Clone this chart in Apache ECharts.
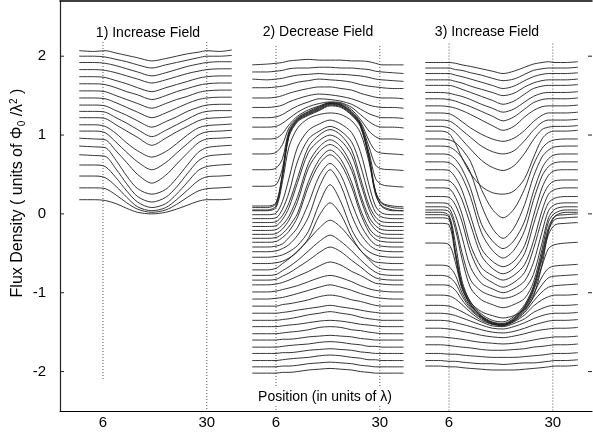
<!DOCTYPE html>
<html><head><meta charset="utf-8">
<script src="https://cdn.jsdelivr.net/npm/echarts@6/dist/echarts.min.js"></script>
<style>html,body{margin:0;padding:0;background:#fff}#c{width:593px;height:433px}</style>
</head><body><div id="c"></div>
<script>
// ---------- data ----------
const panelOffsets = [0, 40, 80];
const panelTitles = ['1) Increase Field', '2) Decrease Field', '3) Increase Field'];
const xTickValues = [6, 30, 46, 70, 86, 110];
const yTickValues = [-2, -1, 0, 1, 2];
const guideXs = [6, 30, 46, 70, 86, 110];
const guideTop = [2.18, 2.18, 2.13, 2.13, 2.16, 2.16];
const guideBottom = [-2.12, -2.5, -2.5, -2.5, -2.5, -2.5];

// panel 1: increase field from zero
const panel1X = [0.5, 4, 6.5, 9, 11.5, 14, 17.3, 20.5, 23, 25.5, 28, 30, 33, 35.8];
const panel1Curves = [
  [2.07,2.06,2.07,2.04,2.01,1.98,1.94,1.97,2.00,2.03,2.05,2.07,2.06,2.08],
  [2.00,2.00,1.99,1.96,1.93,1.89,1.85,1.89,1.92,1.95,1.98,2.00,2.00,2.01],
  [1.92,1.92,1.91,1.88,1.84,1.80,1.75,1.79,1.83,1.87,1.90,1.92,1.93,1.93],
  [1.83,1.83,1.82,1.79,1.75,1.71,1.66,1.70,1.74,1.78,1.81,1.83,1.84,1.84],
  [1.74,1.74,1.73,1.69,1.65,1.60,1.55,1.60,1.64,1.68,1.72,1.74,1.75,1.75],
  [1.65,1.65,1.64,1.60,1.55,1.51,1.45,1.50,1.55,1.59,1.63,1.65,1.66,1.66],
  [1.56,1.56,1.55,1.50,1.45,1.40,1.34,1.40,1.45,1.49,1.54,1.56,1.57,1.57],
  [1.47,1.47,1.46,1.41,1.35,1.29,1.22,1.28,1.34,1.40,1.45,1.47,1.48,1.48],
  [1.38,1.38,1.37,1.31,1.25,1.18,1.10,1.17,1.23,1.30,1.35,1.38,1.39,1.39],
  [1.30,1.30,1.29,1.22,1.15,1.07,0.98,1.06,1.13,1.20,1.27,1.30,1.31,1.31],
  [1.22,1.22,1.21,1.13,1.05,0.97,0.87,0.96,1.04,1.11,1.18,1.21,1.22,1.23],
  [1.13,1.13,1.11,1.02,0.90,0.80,0.72,0.79,0.89,1.00,1.09,1.12,1.13,1.14],
  [1.05,1.05,1.03,0.91,0.78,0.66,0.56,0.65,0.77,0.89,1.00,1.04,1.05,1.06],
  [0.96,0.95,0.94,0.80,0.65,0.50,0.39,0.49,0.63,0.77,0.90,0.95,0.96,0.97],
  [0.86,0.85,0.84,0.68,0.48,0.32,0.25,0.31,0.45,0.62,0.78,0.84,0.86,0.87],
  [0.75,0.74,0.73,0.57,0.38,0.22,0.15,0.21,0.34,0.51,0.67,0.73,0.75,0.76],
  [0.62,0.62,0.60,0.46,0.29,0.15,0.08,0.13,0.25,0.40,0.55,0.60,0.62,0.63],
  [0.48,0.48,0.46,0.35,0.21,0.09,0.04,0.08,0.18,0.30,0.42,0.47,0.48,0.49],
  [0.33,0.33,0.32,0.24,0.14,0.06,0.02,0.05,0.12,0.21,0.29,0.32,0.33,0.34],
  [0.18,0.18,0.17,0.13,0.07,0.02,0.00,0.02,0.06,0.11,0.16,0.18,0.18,0.19]
];

// panel 2: decrease field
const panel2X = [0.5, 4, 6, 7.5, 9, 11, 13.5, 16, 18.5, 21, 23.5, 25.5, 27.5, 29, 30.5, 33, 35.5];
const panel2Upper = [
  [1.89,1.90,1.91,1.92,1.94,1.95,1.96,1.95,1.95,1.95,1.94,1.94,1.93,1.91,1.89,1.89,1.89],
  [1.80,1.80,1.81,1.82,1.84,1.85,1.85,1.86,1.86,1.85,1.85,1.84,1.83,1.81,1.80,1.79,1.78],
  [1.71,1.70,1.71,1.72,1.74,1.76,1.77,1.78,1.77,1.77,1.76,1.75,1.73,1.71,1.70,1.69,1.68],
  [1.60,1.60,1.61,1.62,1.64,1.67,1.69,1.71,1.70,1.69,1.67,1.64,1.62,1.61,1.60,1.59,1.59],
  [1.47,1.47,1.48,1.50,1.53,1.56,1.59,1.61,1.61,1.59,1.57,1.53,1.50,1.48,1.47,1.47,1.46],
  [1.35,1.35,1.36,1.38,1.42,1.46,1.50,1.52,1.51,1.49,1.46,1.42,1.38,1.36,1.35,1.35,1.34],
  [1.22,1.22,1.23,1.26,1.31,1.37,1.42,1.46,1.45,1.43,1.39,1.33,1.27,1.24,1.22,1.22,1.21],
  [1.10,1.10,1.11,1.15,1.21,1.29,1.36,1.40,1.42,1.41,1.35,1.26,1.17,1.12,1.10,1.10,1.09],
  [0.95,0.95,0.96,1.02,1.13,1.24,1.32,1.37,1.41,1.40,1.32,1.20,1.05,0.98,0.95,0.95,0.94],
  [0.76,0.76,0.78,0.88,1.09,1.22,1.30,1.36,1.41,1.39,1.30,1.17,0.93,0.80,0.77,0.76,0.75],
  [0.56,0.56,0.58,0.70,1.05,1.21,1.29,1.35,1.40,1.38,1.29,1.15,0.85,0.62,0.57,0.56,0.55],
  [0.35,0.35,0.37,0.58,1.03,1.20,1.28,1.34,1.40,1.38,1.28,1.14,0.78,0.45,0.37,0.35,0.34]
];
const panel2Plateau = [
  [0.10,0.10,0.14,0.52,1.02,1.19,1.27,1.33,1.39,1.37,1.27,1.13,0.74,0.29,0.14,0.10,0.09],
  [0.08,0.08,0.13,0.50,1.00,1.18,1.26,1.32,1.38,1.36,1.26,1.12,0.72,0.28,0.13,0.08,0.07],
  [0.05,0.05,0.10,0.47,0.98,1.17,1.25,1.31,1.37,1.35,1.25,1.11,0.70,0.25,0.10,0.05,0.04]
];
const panel2Arcs = [
  [0.04,0.04,0.08,0.41,0.85,1.09,1.21,1.26,1.28,1.26,1.18,1.03,0.66,0.26,0.09,0.04,0.04],
  [-0.01,-0.01,0.01,0.16,0.45,0.85,1.06,1.14,1.19,1.14,1.03,0.79,0.37,0.10,0.01,-0.01,-0.01],
  [-0.06,-0.06,-0.05,0.06,0.27,0.67,0.95,1.05,1.11,1.05,0.91,0.62,0.23,0.02,-0.04,-0.06,-0.06],
  [-0.11,-0.11,-0.10,-0.02,0.14,0.46,0.85,1.00,1.07,1.00,0.81,0.46,0.11,-0.04,-0.10,-0.11,-0.11],
  [-0.16,-0.16,-0.15,-0.07,0.08,0.40,0.78,0.93,1.00,0.93,0.74,0.40,0.06,-0.09,-0.15,-0.16,-0.16],
  [-0.21,-0.21,-0.20,-0.14,-0.03,0.22,0.64,0.85,0.94,0.85,0.61,0.25,-0.04,-0.15,-0.20,-0.21,-0.21],
  [-0.26,-0.26,-0.25,-0.19,-0.08,0.16,0.58,0.79,0.88,0.79,0.55,0.20,-0.09,-0.20,-0.25,-0.26,-0.26],
  [-0.31,-0.31,-0.30,-0.25,-0.16,0.01,0.41,0.69,0.81,0.69,0.40,0.06,-0.18,-0.27,-0.30,-0.31,-0.31],
  [-0.36,-0.36,-0.35,-0.30,-0.22,-0.04,0.35,0.63,0.75,0.63,0.34,0.01,-0.23,-0.32,-0.35,-0.36,-0.36],
  [-0.42,-0.42,-0.41,-0.38,-0.30,-0.17,0.13,0.48,0.64,0.49,0.14,-0.13,-0.31,-0.39,-0.41,-0.42,-0.42],
  [-0.48,-0.48,-0.47,-0.44,-0.39,-0.27,-0.04,0.34,0.56,0.36,-0.02,-0.25,-0.39,-0.45,-0.47,-0.48,-0.48],
  [-0.55,-0.55,-0.54,-0.52,-0.48,-0.40,-0.22,0.13,0.37,0.15,-0.20,-0.38,-0.48,-0.52,-0.54,-0.55,-0.55],
  [-0.63,-0.63,-0.62,-0.60,-0.56,-0.48,-0.31,-0.02,0.14,-0.01,-0.29,-0.46,-0.56,-0.61,-0.62,-0.63,-0.63],
  [-0.71,-0.71,-0.69,-0.63,-0.57,-0.47,-0.33,-0.18,-0.08,-0.17,-0.33,-0.46,-0.58,-0.66,-0.70,-0.71,-0.71],
  [-0.78,-0.78,-0.77,-0.72,-0.67,-0.59,-0.47,-0.35,-0.27,-0.35,-0.47,-0.58,-0.68,-0.74,-0.77,-0.78,-0.78],
  [-0.84,-0.84,-0.83,-0.79,-0.75,-0.68,-0.59,-0.49,-0.42,-0.48,-0.59,-0.67,-0.76,-0.81,-0.83,-0.84,-0.84],
  [-0.90,-0.90,-0.89,-0.87,-0.84,-0.79,-0.73,-0.66,-0.61,-0.65,-0.73,-0.78,-0.84,-0.88,-0.89,-0.90,-0.90],
  [-0.99,-0.99,-0.98,-0.96,-0.94,-0.91,-0.86,-0.81,-0.78,-0.81,-0.86,-0.91,-0.95,-0.97,-0.98,-0.99,-0.99],
  [-1.08,-1.08,-1.07,-1.06,-1.04,-1.01,-0.97,-0.93,-0.90,-0.93,-0.97,-1.01,-1.04,-1.06,-1.07,-1.08,-1.08],
  [-1.17,-1.17,-1.17,-1.15,-1.14,-1.12,-1.09,-1.05,-1.03,-1.05,-1.09,-1.11,-1.14,-1.16,-1.17,-1.17,-1.17],
  [-1.26,-1.26,-1.26,-1.25,-1.24,-1.22,-1.20,-1.18,-1.16,-1.18,-1.20,-1.22,-1.24,-1.25,-1.26,-1.26,-1.26],
  [-1.35,-1.35,-1.35,-1.34,-1.33,-1.31,-1.28,-1.26,-1.24,-1.26,-1.28,-1.31,-1.33,-1.34,-1.35,-1.35,-1.35],
  [-1.43,-1.43,-1.43,-1.42,-1.41,-1.40,-1.38,-1.36,-1.35,-1.36,-1.38,-1.40,-1.41,-1.42,-1.43,-1.43,-1.43],
  [-1.52,-1.52,-1.52,-1.51,-1.50,-1.49,-1.47,-1.44,-1.43,-1.44,-1.47,-1.48,-1.50,-1.51,-1.52,-1.52,-1.52],
  [-1.60,-1.60,-1.60,-1.59,-1.59,-1.58,-1.56,-1.55,-1.54,-1.55,-1.56,-1.58,-1.59,-1.60,-1.60,-1.60,-1.60],
  [-1.69,-1.69,-1.69,-1.68,-1.67,-1.66,-1.65,-1.63,-1.62,-1.63,-1.65,-1.66,-1.68,-1.68,-1.69,-1.69,-1.69],
  [-1.77,-1.77,-1.77,-1.76,-1.76,-1.75,-1.73,-1.72,-1.71,-1.72,-1.73,-1.75,-1.76,-1.77,-1.77,-1.77,-1.77],
  [-1.86,-1.86,-1.86,-1.85,-1.84,-1.83,-1.82,-1.80,-1.79,-1.80,-1.82,-1.83,-1.85,-1.85,-1.86,-1.86,-1.86],
  [-1.94,-1.94,-1.94,-1.93,-1.93,-1.92,-1.90,-1.89,-1.88,-1.89,-1.90,-1.92,-1.93,-1.94,-1.94,-1.94,-1.94],
  [-2.02,-2.02,-2.02,-2.01,-2.01,-2.00,-1.98,-1.97,-1.96,-1.97,-1.98,-2.00,-2.01,-2.02,-2.02,-2.02,-2.02]
];

// panel 3: increase field again
const panel3X = [0.5, 4, 6, 7.5, 9, 11, 13.5, 16, 18.5, 21, 23.5, 25.5, 27.5, 29, 30.5, 33, 35.8];
const panel3Dips = [
  [1.92,1.92,1.92,1.91,1.89,1.87,1.84,1.81,1.78,1.81,1.86,1.90,1.92,1.93,1.92,1.92,1.93],
  [1.85,1.85,1.85,1.83,1.82,1.79,1.76,1.72,1.69,1.71,1.77,1.82,1.84,1.85,1.85,1.85,1.86],
  [1.78,1.78,1.78,1.76,1.74,1.71,1.67,1.63,1.59,1.62,1.69,1.74,1.77,1.78,1.78,1.78,1.79],
  [1.70,1.70,1.70,1.68,1.66,1.62,1.58,1.54,1.50,1.53,1.61,1.66,1.69,1.70,1.70,1.70,1.71],
  [1.63,1.63,1.63,1.61,1.58,1.54,1.49,1.44,1.39,1.43,1.52,1.59,1.62,1.63,1.63,1.63,1.64],
  [1.54,1.54,1.53,1.51,1.49,1.45,1.39,1.34,1.29,1.33,1.42,1.49,1.53,1.54,1.54,1.54,1.55],
  [1.46,1.46,1.45,1.43,1.40,1.36,1.30,1.24,1.18,1.23,1.33,1.41,1.45,1.46,1.46,1.46,1.47],
  [1.37,1.37,1.36,1.34,1.31,1.26,1.19,1.12,1.06,1.11,1.23,1.31,1.36,1.37,1.37,1.37,1.38],
  [1.28,1.28,1.27,1.23,1.17,1.09,1.01,0.95,0.92,0.96,1.06,1.17,1.25,1.28,1.28,1.28,1.29],
  [1.19,1.19,1.18,1.13,1.06,0.97,0.86,0.79,0.76,0.80,0.93,1.06,1.16,1.19,1.19,1.19,1.20],
  [1.11,1.11,1.09,1.03,0.94,0.82,0.68,0.59,0.55,0.61,0.77,0.94,1.07,1.10,1.11,1.11,1.12],
  [1.05,1.05,1.02,0.89,0.71,0.51,0.35,0.27,0.25,0.29,0.45,0.71,0.95,1.03,1.05,1.05,1.06]
];
const panel3Troughs = [
  [0.95,0.95,0.94,0.90,0.82,0.66,0.31,0.06,-0.05,0.06,0.32,0.62,0.83,0.91,0.94,0.95,0.95],
  [0.86,0.86,0.85,0.80,0.71,0.52,0.11,-0.18,-0.31,-0.18,0.12,0.47,0.72,0.81,0.85,0.86,0.86],
  [0.76,0.76,0.75,0.69,0.57,0.32,-0.13,-0.34,-0.44,-0.34,-0.09,0.28,0.58,0.70,0.75,0.76,0.76],
  [0.66,0.66,0.65,0.59,0.47,0.21,-0.24,-0.46,-0.56,-0.46,-0.21,0.17,0.48,0.60,0.65,0.66,0.66],
  [0.56,0.56,0.55,0.46,0.30,-0.03,-0.44,-0.60,-0.67,-0.60,-0.40,-0.03,0.33,0.49,0.55,0.56,0.56],
  [0.43,0.43,0.42,0.34,0.18,-0.14,-0.53,-0.69,-0.76,-0.69,-0.50,-0.14,0.20,0.36,0.42,0.43,0.43],
  [0.33,0.33,0.32,0.21,0.00,-0.40,-0.68,-0.78,-0.84,-0.78,-0.64,-0.35,0.04,0.25,0.31,0.33,0.33],
  [0.22,0.22,0.21,0.11,-0.10,-0.49,-0.77,-0.87,-0.93,-0.87,-0.74,-0.45,-0.07,0.14,0.20,0.22,0.22],
  [0.14,0.14,0.12,-0.02,-0.29,-0.68,-0.88,-0.95,-1.00,-0.95,-0.85,-0.62,-0.23,0.04,0.12,0.14,0.14],
  [0.09,0.09,0.07,-0.14,-0.49,-0.84,-0.98,-1.04,-1.07,-1.04,-0.95,-0.77,-0.37,-0.05,0.06,0.09,0.09],
  [0.05,0.05,0.03,-0.20,-0.57,-0.94,-1.09,-1.15,-1.19,-1.15,-1.07,-0.87,-0.45,-0.10,0.01,0.05,0.05],
  [0.02,0.02,-0.02,-0.38,-0.85,-1.12,-1.24,-1.29,-1.32,-1.29,-1.21,-1.05,-0.65,-0.22,-0.03,0.02,0.02]
];
const panel3Envelope = [
  [-0.01,-0.01,-0.04,-0.48,-0.89,-1.12,-1.27,-1.35,-1.37,-1.30,-1.15,-0.92,-0.51,-0.17,-0.03,-0.01,0.00],
  [-0.05,-0.05,-0.07,-0.51,-0.91,-1.14,-1.29,-1.37,-1.39,-1.32,-1.17,-0.94,-0.54,-0.21,-0.07,-0.05,-0.04]
];
const panel3Lower = [
  [-0.12,-0.12,-0.14,-0.54,-0.93,-1.15,-1.30,-1.38,-1.40,-1.33,-1.18,-0.96,-0.58,-0.26,-0.14,-0.12,-0.11],
  [-0.37,-0.37,-0.39,-0.62,-0.95,-1.16,-1.30,-1.38,-1.40,-1.34,-1.19,-0.98,-0.66,-0.44,-0.39,-0.37,-0.36],
  [-0.65,-0.65,-0.67,-0.78,-1.00,-1.18,-1.31,-1.39,-1.41,-1.35,-1.21,-1.02,-0.80,-0.69,-0.66,-0.65,-0.64],
  [-0.78,-0.78,-0.80,-0.88,-1.04,-1.20,-1.32,-1.39,-1.41,-1.35,-1.23,-1.06,-0.90,-0.81,-0.79,-0.78,-0.77],
  [-0.90,-0.90,-0.91,-0.97,-1.09,-1.22,-1.33,-1.40,-1.41,-1.36,-1.25,-1.11,-0.99,-0.93,-0.91,-0.90,-0.89],
  [-1.03,-1.03,-1.04,-1.08,-1.15,-1.25,-1.35,-1.40,-1.42,-1.37,-1.28,-1.17,-1.09,-1.05,-1.03,-1.03,-1.02],
  [-1.16,-1.16,-1.17,-1.20,-1.24,-1.30,-1.37,-1.42,-1.43,-1.39,-1.33,-1.25,-1.20,-1.17,-1.16,-1.16,-1.15],
  [-1.26,-1.26,-1.27,-1.29,-1.32,-1.36,-1.41,-1.45,-1.46,-1.43,-1.38,-1.33,-1.29,-1.27,-1.26,-1.26,-1.25],
  [-1.35,-1.35,-1.36,-1.38,-1.40,-1.43,-1.47,-1.50,-1.51,-1.49,-1.45,-1.41,-1.38,-1.36,-1.35,-1.35,-1.34],
  [-1.45,-1.45,-1.46,-1.47,-1.49,-1.51,-1.54,-1.56,-1.57,-1.55,-1.52,-1.49,-1.47,-1.46,-1.45,-1.45,-1.44],
  [-1.56,-1.56,-1.57,-1.58,-1.59,-1.61,-1.63,-1.64,-1.65,-1.64,-1.62,-1.60,-1.58,-1.57,-1.56,-1.56,-1.55],
  [-1.66,-1.66,-1.67,-1.68,-1.69,-1.70,-1.72,-1.73,-1.73,-1.72,-1.71,-1.69,-1.68,-1.67,-1.66,-1.66,-1.65],
  [-1.77,-1.77,-1.78,-1.78,-1.79,-1.80,-1.81,-1.82,-1.82,-1.82,-1.81,-1.80,-1.79,-1.78,-1.77,-1.77,-1.76],
  [-1.86,-1.86,-1.87,-1.87,-1.88,-1.89,-1.90,-1.90,-1.91,-1.90,-1.89,-1.89,-1.88,-1.87,-1.86,-1.86,-1.85],
  [-1.93,-1.93,-1.94,-1.94,-1.95,-1.96,-1.97,-1.98,-1.98,-1.98,-1.97,-1.96,-1.95,-1.94,-1.93,-1.93,-1.92]
];

// ---------- build ----------
const FONT = '"Liberation Sans", Arial, Helvetica, sans-serif';
const series = [];
function addCurves(X, curves, offset) {
  curves.forEach(vals => {
    series.push({
      type: 'line', silent: true, animation: false, symbol: 'none', smooth: 0.3, z: 3,
      xAxisIndex: 0, yAxisIndex: 0,
      lineStyle: { color: '#1e1e1e', width: 0.9 },
      data: X.map((x, i) => [x + offset, vals[i]])
    });
  });
}
addCurves(panel1X, panel1Curves, panelOffsets[0]);
addCurves(panel2X, panel2Upper, panelOffsets[1]);
addCurves(panel2X, panel2Plateau, panelOffsets[1]);
addCurves(panel2X, panel2Arcs, panelOffsets[1]);
addCurves(panel3X, panel3Dips, panelOffsets[2]);
addCurves(panel3X, panel3Troughs, panelOffsets[2]);
addCurves(panel3X, panel3Envelope, panelOffsets[2]);
addCurves(panel3X, panel3Lower, panelOffsets[2]);
guideXs.forEach((gx, i) => {
  series.push({
    type: 'line', silent: true, animation: false, symbol: 'none', z: 2,
    xAxisIndex: 0, yAxisIndex: 0,
    lineStyle: { color: '#555', width: 1, type: [1, 2] },
    data: [[gx, guideTop[i]], [gx, guideBottom[i]]]
  });
});

const xMin = -3.94, xMax = 119.06, yMin = -2.5, yMax = 2.7;
const chart = echarts.init(document.getElementById('c'), null, { renderer: 'canvas' });
chart.setOption({
  animation: false,
  backgroundColor: '#fff',
  grid: { left: 60, right: 1, top: 1, bottom: 22, containLabel: false },
  xAxis: [{
    type: 'value', min: xMin, max: xMax, position: 'bottom',
    splitLine: { show: false },
    axisLine: { show: true, onZero: false, lineStyle: { color: '#000', width: 1.2 } },
    axisTick: { show: false },
    axisLabel: {
      customValues: xTickValues, margin: 4, color: '#000', fontSize: 15, fontFamily: FONT,
      formatter: v => String(v >= 80 ? v - 80 : v >= 40 ? v - 40 : v)
    }
  }, {
    type: 'value', min: xMin, max: xMax, position: 'top',
    splitLine: { show: false },
    axisLine: { show: true, onZero: false, lineStyle: { color: '#000', width: 1.5 } },
    axisTick: { show: false }, axisLabel: { show: false }
  }],
  yAxis: [{
    type: 'value', min: yMin, max: yMax, position: 'left',
    splitLine: { show: false },
    axisLine: { show: true, onZero: false, lineStyle: { color: '#222', width: 1.2 } },
    axisTick: { show: false },
    axisLabel: { show: false }
  }],
  series: series
});

// text, tick marks and labels placed through the chart's own coordinate conversion
const graphics = [
  { type: 'text', x: 148, y: 33, z: 10, style: { text: panelTitles[0], font: '14px ' + FONT, fill: '#000', align: 'center', verticalAlign: 'middle' } },
  { type: 'text', x: 318, y: 32, z: 10, style: { text: panelTitles[1], font: '14px ' + FONT, fill: '#000', align: 'center', verticalAlign: 'middle' } },
  { type: 'text', x: 487, y: 32, z: 10, style: { text: panelTitles[2], font: '14px ' + FONT, fill: '#000', align: 'center', verticalAlign: 'middle' } },
  { type: 'text', x: 325, y: 397, z: 10, style: { text: 'Position (in units of λ)', font: '14px ' + FONT, fill: '#000', align: 'center', verticalAlign: 'middle', backgroundColor: '#fff', padding: [2, 2] } },
  { type: 'text', x: 18, y: 193, rotation: Math.PI / 2, z: 10,
    style: {
      text: 'Flux Density ( units of Φ{sub|0} /λ{sup|2} )',
      font: '16px ' + FONT, fill: '#000', align: 'center', verticalAlign: 'middle',
      rich: {
        sub: { fontSize: 10, fontFamily: FONT, fill: '#000', padding: [8, 0, 0, 0] },
        sup: { fontSize: 10, fontFamily: FONT, fill: '#000', padding: [0, 0, 8, 0] }
      }
    } }
];
yTickValues.forEach(v => {
  const pl = chart.convertToPixel({ xAxisIndex: 0, yAxisIndex: 0 }, [xMin, v]);
  const pr = chart.convertToPixel({ xAxisIndex: 0, yAxisIndex: 0 }, [xMax, v]);
  graphics.push({ type: 'text', x: pl[0] - 14, y: pl[1], z: 10,
    style: { text: String(v), font: '15px ' + FONT, fill: '#000', align: 'right', verticalAlign: 'middle' } });
  graphics.push({ type: 'line', z: 10, shape: { x1: pl[0], y1: pl[1], x2: pl[0] + 4, y2: pl[1] }, style: { stroke: '#222', lineWidth: 1 } });
  graphics.push({ type: 'line', z: 10, shape: { x1: pr[0] - 4, y1: pr[1], x2: pr[0], y2: pr[1] }, style: { stroke: '#222', lineWidth: 1 } });
});
chart.setOption({ graphic: graphics });
</script>
</body></html>
